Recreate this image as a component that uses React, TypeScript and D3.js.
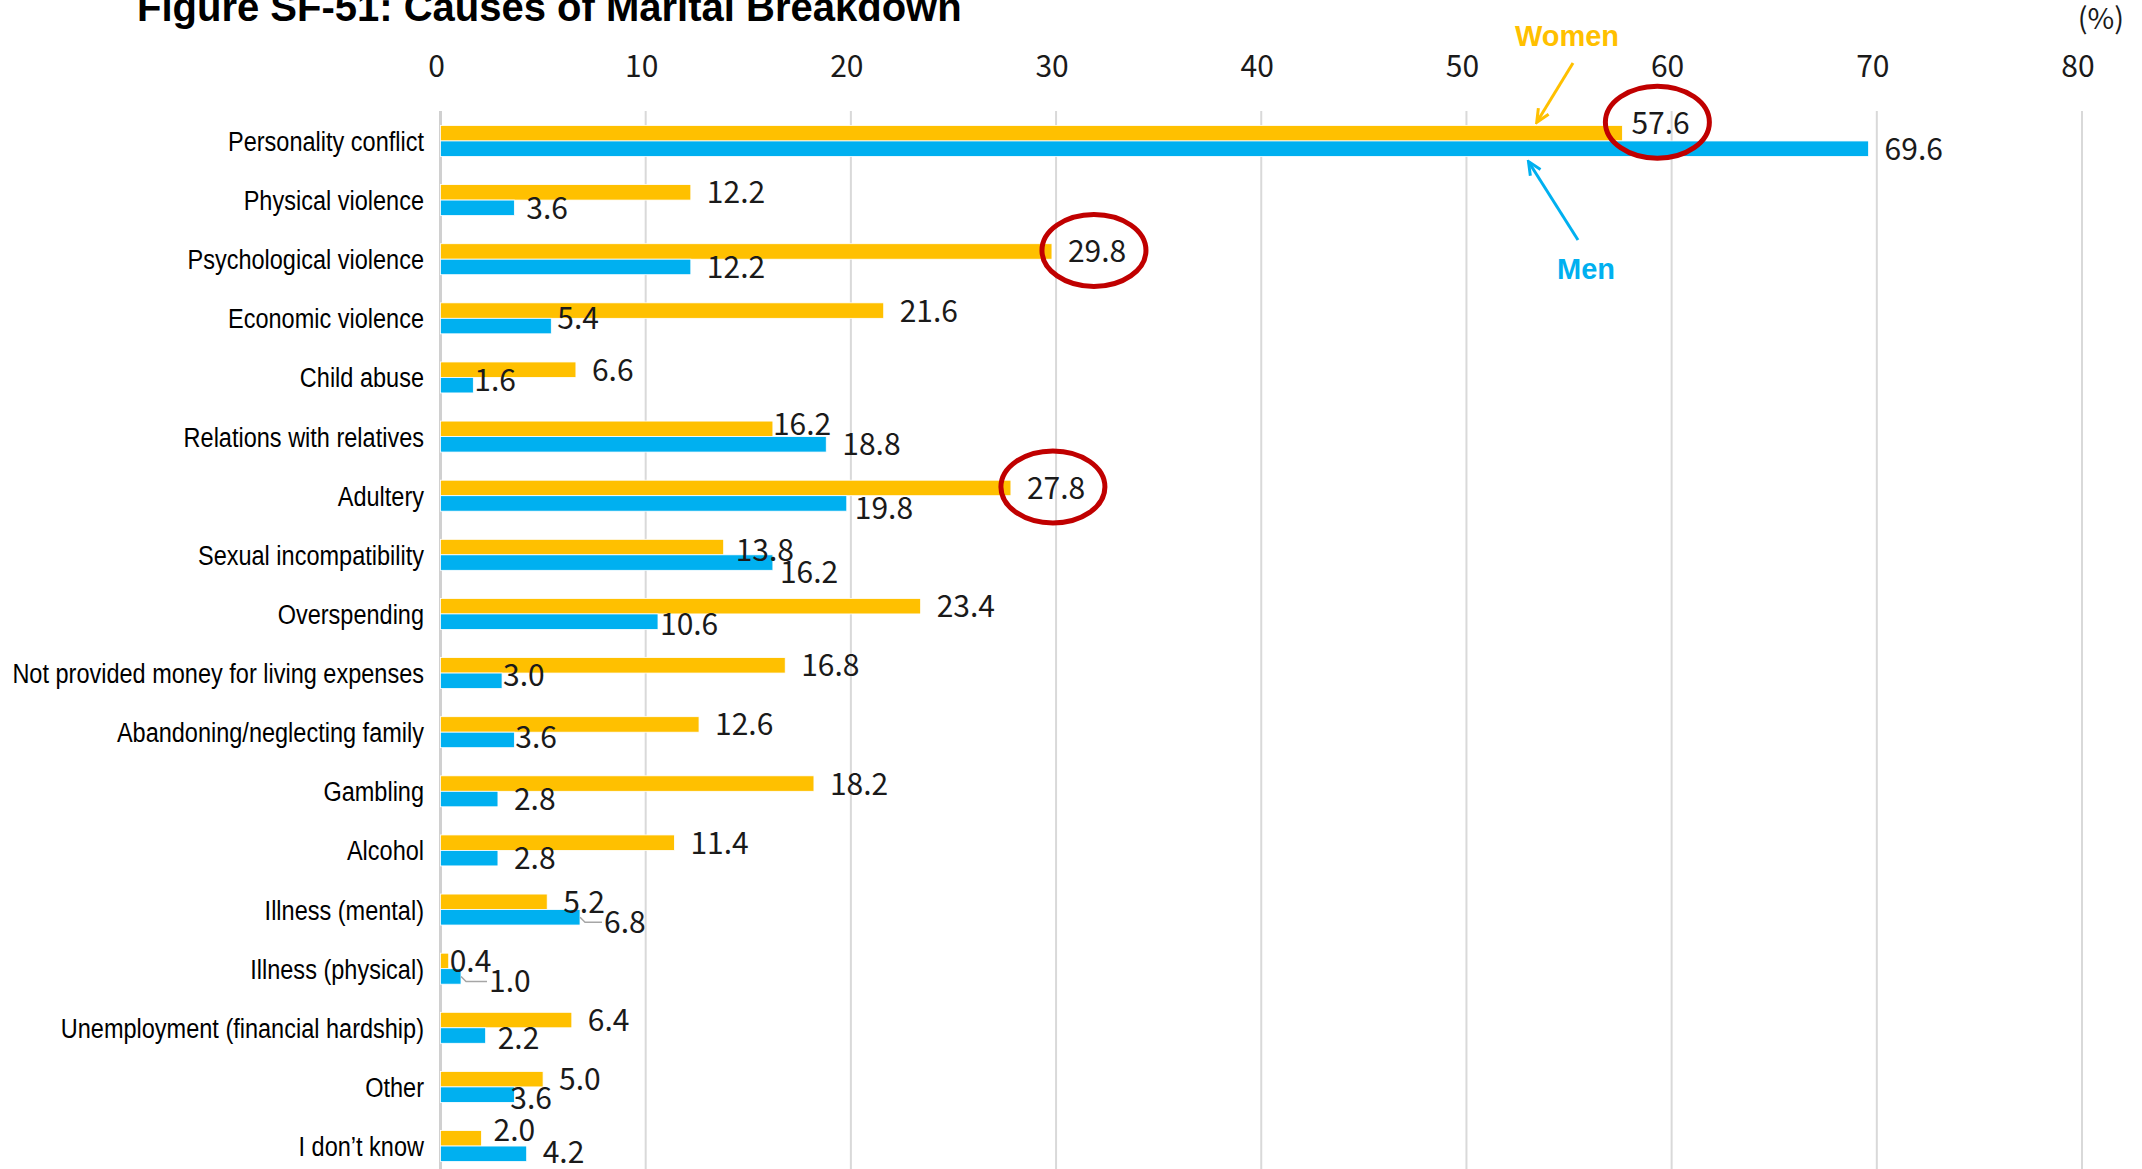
import * as React from 'react'
import * as d3 from 'd3'

// Survey data (%)
const categories = [
	'Personality conflict',
	'Physical violence',
	'Psychological violence',
	'Economic violence',
	'Child abuse',
	'Relations with relatives',
	'Adultery',
	'Sexual incompatibility',
	'Overspending',
	'Not provided money for living expenses',
	'Abandoning/neglecting family',
	'Gambling',
	'Alcohol',
	'Illness (mental)',
	'Illness (physical)',
	'Unemployment (financial hardship)',
	'Other',
	'I don\u2019t know',
]
const women = [57.6, 12.2, 29.8, 21.6, 6.6, 16.2, 27.8, 13.8, 23.4, 16.8, 12.6, 18.2, 11.4, 5.2, 0.4, 6.4, 5.0, 2.0]
const men = [69.6, 3.6, 12.2, 5.4, 1.6, 18.8, 19.8, 16.2, 10.6, 3.0, 3.6, 2.8, 2.8, 6.8, 1.0, 2.2, 3.6, 4.2]
const seriesNames = ['Women', 'Men']
const xTicks = [0, 10, 20, 30, 40, 50, 60, 70, 80]

const title = 'Figure SF-51: Causes of Marital Breakdown'
const colors: Record<string, string> = { Women: '#FFC000', Men: '#00B0F0' }

// hand placed label offsets (like dragged labels in the original)
const labelNudge: Record<string, [number, number]> = {
	'Women|Personality conflict': [-7, -10],
	'Men|Physical violence': [-4, 0],
	'Men|Economic violence': [-10, -8],
	'Men|Child abuse': [-15, -5],
	'Women|Relations with relatives': [-16, -5],
	'Men|Adultery': [-8, 5],
	'Women|Sexual incompatibility': [-4, 3],
	'Men|Sexual incompatibility': [-9, 9],
	'Men|Overspending': [-14, 2],
	'Men|Not provided money for living expenses': [-15, -6],
	'Men|Abandoning/neglecting family': [-15, -3],
	'Men|Illness (mental)': [8, 5],
	'Women|Illness (physical)': [-15, 0],
	'Men|Illness (physical)': [12, 5],
	'Men|Unemployment (financial hardship)': [-4, 2],
	'Men|Other': [-20, 3],
	'Women|I don\u2019t know': [-4, -8],
	'Men|I don\u2019t know': [0, -2],
}
const leaderLines = ['Men|Illness (mental)', 'Men|Illness (physical)']
const circled = ['Women|Personality conflict', 'Women|Psychological violence', 'Women|Adultery']

const W = 2142
const H = 1169

const App: React.FC = () => {
	React.useEffect(() => {
		document.body.style.margin = '0'
	}, [])

	const x = d3.scaleLinear().domain([0, 80]).range([440.5, 2082])
	const y = d3.scaleBand<string>()
		.domain(categories)
		.range([111.4, 1175.6])
		.paddingInner(0.476)
		.paddingOuter(0.238)
	const ySub = d3.scaleBand<string>().domain(seriesNames).range([0, y.bandwidth()])
	const bh = ySub.bandwidth()

	const rows = categories.map((c, i) => ({ cat: c, Women: women[i], Men: men[i] }))

	const labelPos = (s: string, c: string, v: number) => {
		const n = labelNudge[`${s}|${c}`] || [0, 0]
		return {
			lx: x(v) + 16 + n[0],
			cy: (y(c) as number) + (ySub(s) as number) + bh / 2 + n[1],
		}
	}

	const numFont = '"Noto Sans CJK JP", "Noto Sans", sans-serif'
	const catFont = '"Liberation Sans", Arial, sans-serif'

	// arrows pointing at the first pair of bars
	const topRow = y(categories[0]) as number
	const womenArrow = { x1: 1573, y1: 63, x2: x(53.45), y2: topRow + (ySub('Women') as number) - 4 }
	const menArrow = { x1: 1578, y1: 240, x2: x(53.05), y2: topRow + (ySub('Men') as number) + bh + 6 }

	return (
		<svg width={W} height={H} style={{ position: 'absolute', left: 0, top: 0, background: '#fff' }}>
			<defs>
				{seriesNames.map(s => (
					<marker key={s} id={`arrow-${s}`} markerWidth={16} markerHeight={16} refX={13} refY={8}
						orient="auto" markerUnits="userSpaceOnUse">
						<path d="M1,2 L14,8 L1,14" fill="none" stroke={colors[s]} strokeWidth={3} />
					</marker>
				))}
			</defs>

			<text x={137} y={21} fontFamily='"Liberation Sans", Arial, sans-serif' fontWeight="bold" fontSize={40} fill="#000">
				{title}
			</text>

			{/* grid */}
			{xTicks.map(t => (
				<line key={t} x1={x(t)} x2={x(t)} y1={111} y2={H}
					stroke={t === 0 ? '#d0d0d0' : '#d9d9d9'} strokeWidth={t === 0 ? 3 : 2} />
			))}
			{xTicks.map(t => (
				<text key={'t' + t} x={x(t) - 4} y={77} textAnchor="middle" fontFamily={numFont} fontSize={30} fill="#1a1a1a">
					{t}
				</text>
			))}
			<text x={2124} y={29} textAnchor="end" fontFamily={numFont} fontSize={29} fill="#1a1a1a">(%)</text>

			{/* category labels, condensed like Arial Narrow */}
			{categories.map(c => (
				<text key={c} transform={`translate(424,${(y(c) as number) + y.bandwidth() / 2 + 10}) scale(0.84,1)`}
					textAnchor="end" fontFamily={catFont} fontSize={28} fill="#000">
					{c}
				</text>
			))}

			{/* bars */}
			{rows.map(r => seriesNames.map(s => (
				<rect key={r.cat + s} x={x(0)} y={(y(r.cat) as number) + (ySub(s) as number)}
					width={x((r as any)[s]) - x(0)} height={bh} fill={colors[s]} stroke="#fff" strokeWidth={0.8} />
			)))}

			{/* leader lines */}
			{rows.map(r => seriesNames.map(s => {
				const k = `${s}|${r.cat}`
				if (!leaderLines.includes(k)) return null
				const v = (r as any)[s]
				const p = labelPos(s, r.cat, v)
				const by = (y(r.cat) as number) + (ySub(s) as number) + bh / 2
				return (
					<path key={'ll' + k} d={`M${x(v)},${by} L${x(v) + 5},${p.cy} L${p.lx - 2},${p.cy}`}
						fill="none" stroke="#a6a6a6" strokeWidth={1.5} />
				)
			}))}

			{/* data labels */}
			{rows.map(r => seriesNames.map(s => {
				const v = (r as any)[s] as number
				const p = labelPos(s, r.cat, v)
				return (
					<text key={'l' + s + r.cat} x={p.lx} y={p.cy + 11} fontFamily={numFont} fontSize={30} fill="#1a1a1a">
						{v.toFixed(1)}
					</text>
				)
			}))}

			{/* red highlight ellipses */}
			{rows.map(r => seriesNames.map(s => {
				const k = `${s}|${r.cat}`
				if (!circled.includes(k)) return null
				const p = labelPos(s, r.cat, (r as any)[s])
				return (
					<ellipse key={'c' + k} cx={p.lx + 26} cy={p.cy - 1} rx={52} ry={36}
						fill="none" stroke="#C00000" strokeWidth={5} />
				)
			}))}

			{/* series annotations */}
			<text x={1567} y={46} textAnchor="middle" fontFamily='"Liberation Sans", Arial, sans-serif'
				fontWeight="bold" fontSize={29} fill={colors.Women}>Women</text>
			<line {...womenArrow} stroke={colors.Women} strokeWidth={3} markerEnd="url(#arrow-Women)" />
			<text x={1586} y={279} textAnchor="middle" fontFamily='"Liberation Sans", Arial, sans-serif'
				fontWeight="bold" fontSize={29} fill={colors.Men}>Men</text>
			<line {...menArrow} stroke={colors.Men} strokeWidth={3} markerEnd="url(#arrow-Men)" />
		</svg>
	)
}

export default App
